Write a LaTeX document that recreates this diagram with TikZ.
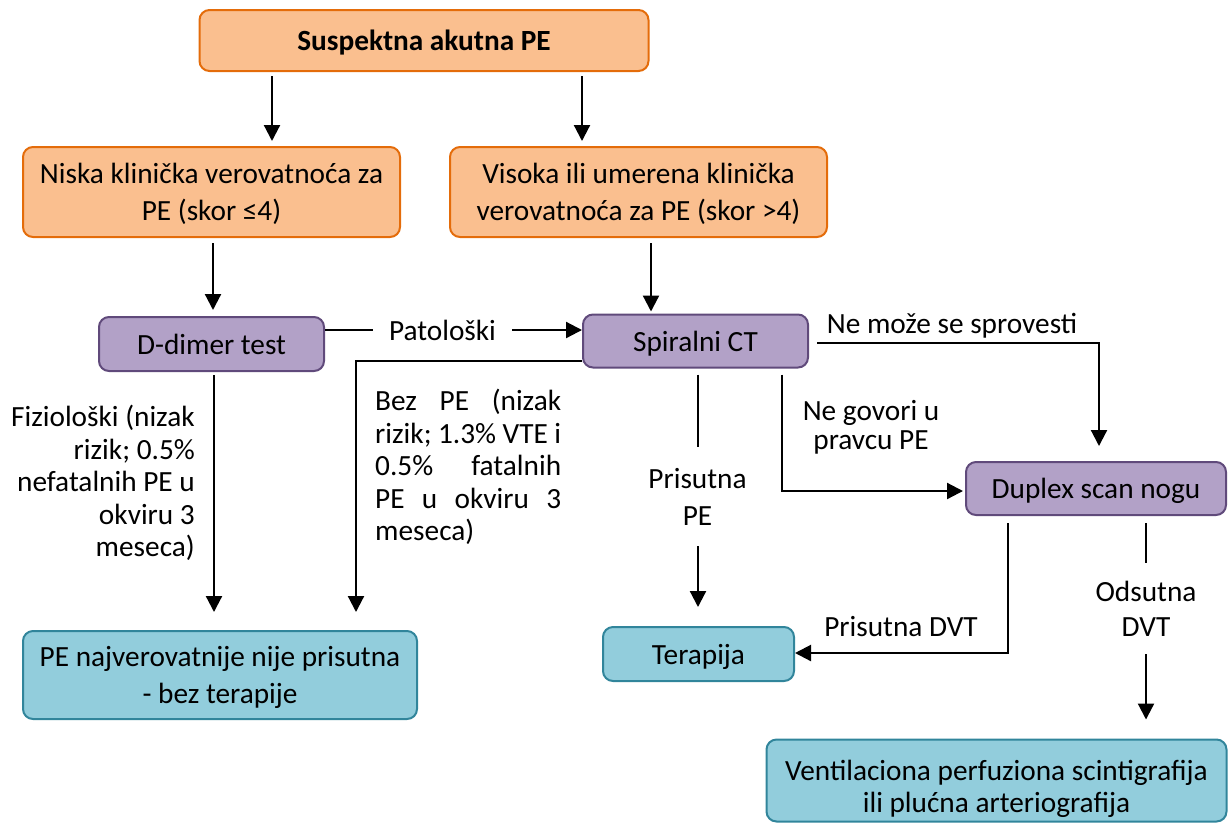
\documentclass[tikz,border=0pt]{standalone}
\usepackage{fontspec}
\setmainfont{Carlito}
\usetikzlibrary{arrows.meta}

\definecolor{orfill}{RGB}{250,191,143}
\definecolor{ordraw}{RGB}{228,108,10}
\definecolor{pufill}{RGB}{178,161,199}
\definecolor{pudraw}{RGB}{96,74,123}
\definecolor{tefill}{RGB}{146,205,220}
\definecolor{tedraw}{RGB}{49,133,155}

\tikzset{
  box/.style={rounded corners=10pt, line width=2pt, align=center, inner sep=0pt,
    text depth=0pt, font=\fontsize{29.3}{36.5}\selectfont},
  orbox/.style={box, fill=orfill, draw=ordraw},
  pubox/.style={box, fill=pufill, draw=pudraw},
  tebox/.style={box, fill=tefill, draw=tedraw},
  conn/.style={line width=2.2pt},
  arr/.style={line width=2.2pt, -{Triangle[width=16pt,length=16pt]}},
  lbl/.style={inner sep=0pt, font=\fontsize{29.3}{32.5}\selectfont},
  gaplbl/.style={inner sep=0pt, fill=white, align=center},
}

\begin{document}
\begin{tikzpicture}[x=1pt, y=-1pt]
\useasboundingbox (0,0) rectangle (1228,823);

% boxes
\node[orbox, minimum width=449pt, minimum height=61pt] (susp) at (424,40.5)
  {\bfseries Suspektna akutna PE};
\node[orbox, minimum width=377pt, minimum height=90pt] (niska) at (211.5,192)
  {Niska klinička verovatnoća za\\PE (skor ≤4)};
\node[orbox, minimum width=377pt, minimum height=90pt] (visoka) at (638.5,192)
  {Visoka ili umerena klinička\\verovatnoća za PE (skor >4)};
\node[pubox, minimum width=225pt, minimum height=54pt] (ddimer) at (211.5,344)
  {D-dimer test};
\node[pubox, minimum width=225pt, minimum height=53pt] (ct) at (695.5,341)
  {Spiralni CT};
\node[pubox, minimum width=260pt, minimum height=53pt] (duplex) at (1096,488.5)
  {Duplex scan nogu};
\node[tebox, minimum width=394pt, minimum height=88pt] (pe) at (220,675)
  {PE najverovatnije nije prisutna\\- bez terapije};
\node[tebox, minimum width=191pt, minimum height=54pt] (terapija) at (698.5,654)
  {Terapija};
\node[tebox, minimum width=460pt, minimum height=82pt, font=\fontsize{29.3}{32}\selectfont]
  (vent) at (996.5,780.5)
  {\rule{0pt}{32pt}Ventilaciona perfuziona scintigrafija\\ili plućna arteriografija};

% connectors
\draw[arr, shorten <=4pt, shorten >=5pt] (susp.south -| 272,0) -- (niska.north -| 272,0);
\draw[arr, shorten <=4pt, shorten >=5pt] (susp.south -| 582,0) -- (visoka.north -| 582,0);
\draw[arr, shorten <=5pt, shorten >=6pt] (niska.south -| 213,0) -- (ddimer.north -| 213,0);
\draw[arr, shorten <=5pt, shorten >=2pt] (visoka.south -| 651,0) -- (ct.north -| 651,0);
\draw[arr] (ddimer.east |- 0,330) -- (ct.west |- 0,330);
\draw[arr, shorten >=18pt] (ct.west |- 0,361) -| (pe.north -| 356,0);
\draw[arr, shorten <=3pt, shorten >=18pt] (ddimer.south -| 214,0) -- (pe.north -| 214,0);
\draw[arr, shorten <=6pt, shorten >=19pt] (ct.south -| 698,0) -- (terapija.north -| 698,0);
\draw[arr, shorten <=6pt, shorten >=2pt] (ct.south -| 782,0) |- (duplex.west |- 0,491);
\draw[arr, shorten <=8pt, shorten >=15pt] (ct.east |- 0,343) -| (duplex.north -| 1099,0);
\draw[arr, shorten <=7pt] (duplex.south -| 1008,0) |- (terapija.east |- 0,653);
\draw[arr, shorten <=7pt, shorten >=19pt] (duplex.south -| 1146,0) -- (vent.north -| 1146,0);

% labels that interrupt a connector
\node[gaplbl, lbl, minimum width=139pt] (pat) at (442.5,330) {Patološki};
\node[gaplbl, lbl, minimum height=99pt, minimum width=20pt,
  font=\fontsize{29.3}{37}\selectfont] (prispe) at (697.5,496.5) {Prisutna\\PE};
\node[gaplbl, lbl, minimum height=91pt, minimum width=20pt,
  font=\fontsize{29.3}{35}\selectfont] (odsdvt) at (1146,608.5) {Odsutna\\DVT};

% labels beside a connector
\node[lbl, align=right, anchor=east] (fiz) at (195,483)
  {Fiziološki (nizak\\rizik; 0.5\%\\nefatalnih PE u\\okviru 3\\meseca)};
\node[lbl, align=left, anchor=west] (bez) at (375,467)
  {\hbox to 186pt{Bez\hfill PE\hfill (nizak}\\
   \hbox to 186pt{rizik;\hfill 1.3\%\hfill VTE\hfill i}\\
   \hbox to 186pt{0.5\%\hfill fatalnih}\\
   \hbox to 186pt{PE\hfill u\hfill okviru\hfill 3}\\
   \hbox to 186pt{meseca)\hfill}};
\node[lbl, align=center, font=\fontsize{29.3}{29.5}\selectfont] (negov) at (871,427.5)
  {Ne govori u\\pravcu PE};
\node[lbl, text depth=0pt] (nemoze) at (952,323) {Ne može se sprovesti};
\node[lbl, text depth=0pt] (prisdvt) at (901,626) {Prisutna DVT};
\end{tikzpicture}
\end{document}
